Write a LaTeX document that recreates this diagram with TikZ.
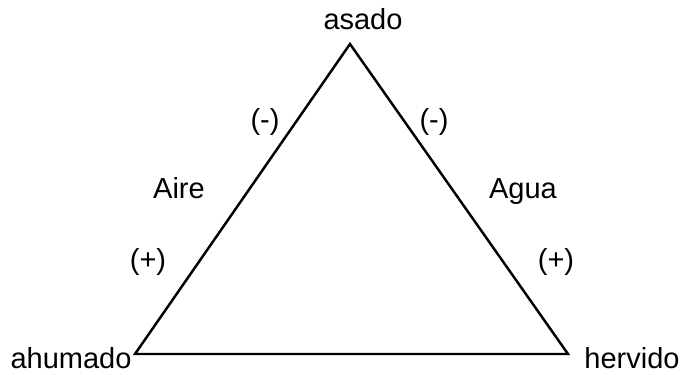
\documentclass[tikz,border=0pt]{standalone}
\usepackage{fontspec}
\setmainfont{Liberation Sans}
\usetikzlibrary{positioning}

\begin{document}
\begin{tikzpicture}[x=0.02cm, y=-0.02cm,
    label text/.style={font=\fontsize{16.5}{19}\selectfont, inner sep=0pt},
    edge line/.style={line width=1.4pt, line join=miter}]
    % Frame
    \useasboundingbox (0,0) rectangle (686,375);

    % Corners of the triangle
    \coordinate (top) at (350,44);
    \coordinate (left) at (135,354);
    \coordinate (right) at (568,354);

    % Triangle
    \draw[edge line] (top) -- (right) -- (left) -- cycle;

    % Corner labels
    \node[label text, anchor=base] (asado) at (363,30) {asado};
    \node[label text, anchor=base] (ahumado) at (71,368) {ahumado};
    \node[label text, anchor=base] (hervido) at (632,368) {hervido};

    % Side labels
    \node[label text] (minusL) at (265,122) {(-)};
    \node[label text, anchor=base] (aire) at (179,198) {Aire};
    \node[label text] (plusL) at (148,262) {(+)};

    \node[label text] (minusR) at (434,122) {(-)};
    \node[label text, anchor=base] (agua) at (523,198) {Agua};
    \node[label text] (plusR) at (556,262) {(+)};
\end{tikzpicture}
\end{document}
